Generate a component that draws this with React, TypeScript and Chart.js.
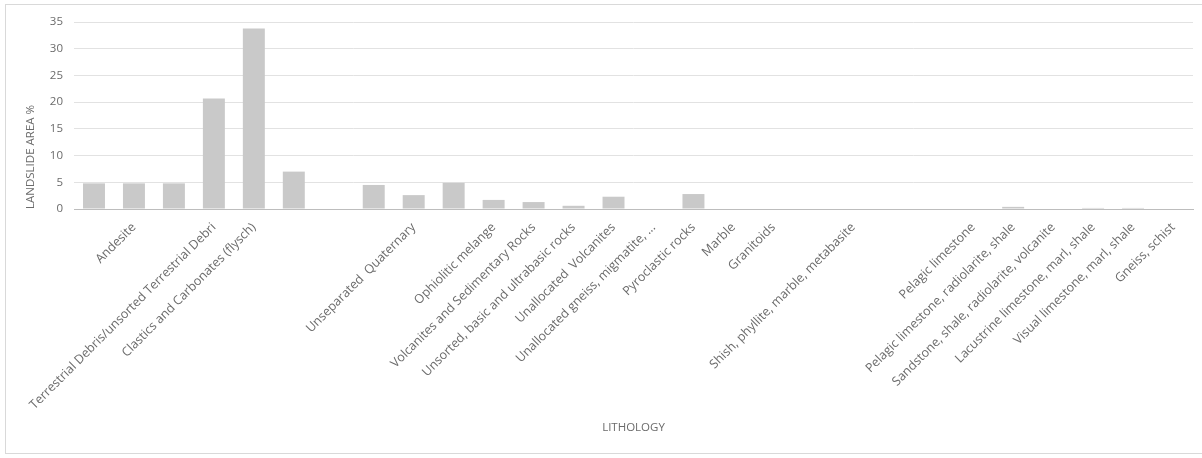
import React, { useEffect, useRef } from 'react';
import { Chart, registerables } from 'chart.js';

Chart.register(...registerables);

const categories: string[] = [
  '',
  'Andesite',
  '',
  'Terrestrial Debris/unsorted Terrestrial Debri',
  'Clastics and Carbonates (flysch)',
  '',
  '',
  '',
  'Unseparated  Quaternary',
  '',
  'Ophiolitic melange',
  'Volcanites and Sedimentary Rocks',
  'Unsorted, basic and ultrabasic rocks',
  'Unallocated  Volcanites',
  'Unallocated gneiss, migmatite, ...',
  'Pyroclastic rocks',
  'Marble',
  'Granitoids',
  '',
  'Shish, phyllite, marble, metabasite',
  '',
  '',
  'Pelagic limestone',
  'Pelagic limestone, radiolarite, shale',
  'Sandstone, shale, radiolarite, volcanite',
  'Lacustrine limestone, marl, shale',
  'Visual limestone, marl, shale',
  'Gneiss, schist',
];

const landslideArea: number[] = [
  4.8, 4.8, 4.8, 20.7, 33.8, 7.0, 0, 4.5, 2.6, 4.9, 1.7, 1.3, 0.6, 2.3,
  0, 2.8, 0, 0, 0, 0, 0, 0, 0, 0.4, 0, 0.2, 0.2, 0,
];

const yTicks: number[] = [0, 5, 10, 15, 20, 25, 30, 35];

const FONT = "'Open Sans', 'Liberation Sans', sans-serif";
const TEXT = '#6b6b6b';

export default function App() {
  const ref = useRef<HTMLCanvasElement | null>(null);

  useEffect(() => {
    if (!ref.current) return;
    const chart = new Chart(ref.current, {
      type: 'bar',
      data: {
        labels: categories,
        datasets: [
          {
            data: landslideArea,
            backgroundColor: '#c9c9c9',
            borderWidth: 0,
            barPercentage: 0.55,
            categoryPercentage: 1,
          },
        ],
      },
      options: {
        responsive: false,
        animation: false,
        layout: { padding: { left: 24, top: 22, right: 9, bottom: 23 } },
        plugins: { legend: { display: false }, tooltip: { enabled: false } },
        scales: {
          x: {
            grid: { display: false, drawTicks: false },
            border: { display: true, color: '#bdbdbd', width: 1 },
            ticks: {
              autoSkip: false,
              minRotation: 45,
              maxRotation: 45,
              padding: 11,
              color: TEXT,
              font: { family: FONT, size: 12.5 },
            },
            title: {
              display: true,
              text: 'LITHOLOGY',
              color: TEXT,
              font: { family: FONT, size: 11.5 },
              padding: 0,
            },
            afterFit: (s: any) => {
              s.height = 226;
            },
          },
          y: {
            min: 0,
            max: 35,
            afterBuildTicks: (s: any) => {
              s.ticks = yTicks.map((v) => ({ value: v }));
            },
            grid: { color: '#e2e2e2', drawTicks: false },
            border: { display: false },
            ticks: {
              padding: 11,
              color: TEXT,
              font: { family: FONT, size: 11.5 },
            },
            title: {
              display: true,
              text: 'LANDSLIDE AREA %',
              align: 'start',
              color: TEXT,
              font: { family: FONT, size: 11.5 },
              padding: 0,
            },
            afterFit: (s: any) => {
              s.width = 50;
            },
          },
        },
      },
    });
    return () => chart.destroy();
  }, []);

  return (
    <div style={{ position: 'absolute', left: 0, top: 0, width: 1202, height: 458, background: '#fff' }}>
      <div
        style={{
          position: 'absolute',
          left: 5,
          top: 4,
          width: 1210,
          height: 450,
          border: '1px solid #d9d9d9',
          boxSizing: 'border-box',
        }}
      />
      <canvas ref={ref} width={1202} height={458} style={{ position: 'absolute', left: 0, top: 0, display: 'block' }} />
    </div>
  );
}
